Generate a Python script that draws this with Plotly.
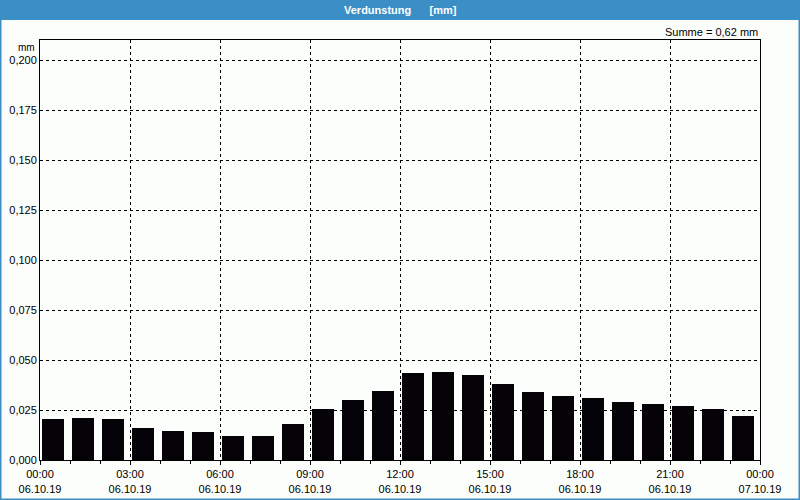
import plotly.graph_objects as go

hours = [h + 0.5 for h in range(24)]
values = [0.0205, 0.021, 0.0205, 0.016, 0.0147, 0.014, 0.012, 0.012, 0.018, 0.0255, 0.030, 0.0345,
          0.0435, 0.044, 0.0427, 0.038, 0.034, 0.032, 0.031, 0.029, 0.028, 0.027, 0.0255, 0.022]
tick_hours = [0, 3, 6, 9, 12, 15, 18, 21, 24]
tick_times = ["00:00", "03:00", "06:00", "09:00", "12:00", "15:00", "18:00", "21:00", "00:00"]
tick_dates = ["06.10.19"] * 8 + ["07.10.19"]
y_ticks = [0, 0.025, 0.05, 0.075, 0.1, 0.125, 0.15, 0.175, 0.2]
title = "Verdunstung\u00a0\u00a0\u00a0\u00a0\u00a0\u00a0[mm]"
summe = "Summe = 0,62 mm"

FONT = "Liberation Sans"
BLUE = "rgb(60,143,198)"

fig = go.Figure(go.Bar(x=hours, y=values, width=0.725, offset=-0.425,
                       marker=dict(color="#050308", line=dict(width=0))))

fig.update_layout(
    width=800, height=500,
    margin=dict(l=40, r=40, t=40, b=40, autoexpand=False),
    paper_bgcolor="#fcfefc", plot_bgcolor="#fcfefc",
    separators=",.",
    showlegend=False,
    font=dict(family=FONT, size=11, color="#000"),
    bargap=0,
)
fig.update_xaxes(
    range=[0, 24], tickmode="array", tickvals=tick_hours,
    ticktext=[f"{t}<br>{d}" for t, d in zip(tick_times, tick_dates)],
    showgrid=True, gridcolor="#000", gridwidth=1, griddash="3px,3px",
    showline=True, linecolor="#000", linewidth=1, mirror=True,
    ticks="outside", ticklen=4, tickcolor="#000",
    minor=dict(dtick=1, tick0=0, ticks="outside", ticklen=3, tickcolor="#000", showgrid=False),
    zeroline=False, tickfont=dict(family=FONT, size=11), automargin=False,
)
fig.update_yaxes(
    range=[0, 0.21], tickmode="array", tickvals=y_ticks, tickformat=".3f",
    showgrid=True, gridcolor="#000", gridwidth=1, griddash="3px,3px",
    showline=True, linecolor="#000", linewidth=1, mirror=True,
    ticks="", zeroline=False, tickfont=dict(family=FONT, size=11), automargin=False,
)

fig.add_shape(type="rect", xref="paper", yref="paper", x0=-40/720, x1=1+40/720, y0=-40/420, y1=1+40/420,
              fillcolor="rgba(0,0,0,0)", line=dict(color=BLUE, width=3))
fig.add_shape(type="rect", xref="paper", yref="paper", x0=-40/720, x1=1+40/720, y0=1+20/420, y1=1+40/420,
              fillcolor=BLUE, line=dict(width=0))
fig.add_annotation(text="<b>" + title + "</b>", xref="paper", yref="paper", x=0.5, y=1+30/420,
                   showarrow=False, font=dict(color="white", size=11, family=FONT), xanchor="center", yanchor="middle")
fig.add_annotation(text=summe, xref="paper", yref="paper", x=1, y=1+8/420, showarrow=False,
                   xanchor="right", yanchor="middle", font=dict(size=11, family=FONT))
fig.add_annotation(text="mm", xref="paper", yref="paper", x=-3/720, y=1-7/420, showarrow=False,
                   xanchor="right", yanchor="middle", font=dict(size=10, family=FONT))

fig.write_html("out.html", config={"displayModeBar": False},
               post_script="document.body.style.margin='0';")
